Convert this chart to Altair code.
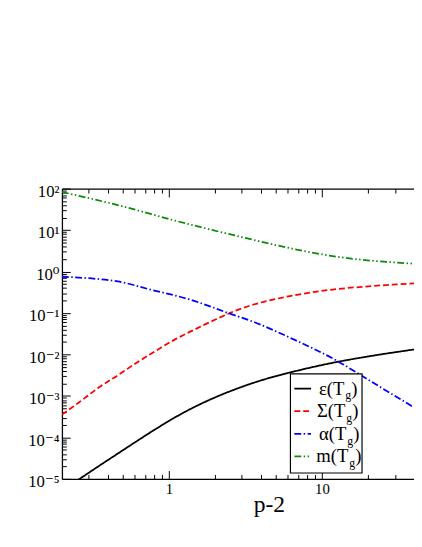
import altair as alt
import pandas as pd

# ---------------- data ----------------
NAMES = ["eps", "Sigma", "alpha", "m"]

X_EPS = [0.2, 0.2576, 0.3456, 0.4637, 0.6221, 0.8346, 1.12, 1.502, 2.016, 2.704,
         3.628, 4.868, 6.53, 12.28, 21.2, 40]
Y_EPS = [5.2e-6, 9.7e-6, 2.0e-5, 4.08e-5, 8.30e-5, 1.66e-4, 3.18e-4, 5.64e-4, 9.31e-4, 1.44e-3,
         2.11e-3, 2.93e-3, 3.87e-3, 6.50e-3, 9.27e-3, 1.32e-2]

X_SIG = [0.2, 0.2576, 0.3456, 0.4637, 0.6221, 0.8346, 1.12, 1.502, 2.016, 2.704,
         3.628, 4.868, 6.53, 11.75, 21.2, 40]
Y_SIG = [3.55e-4, 6.93e-4, 1.57e-3, 3.15e-3, 6.50e-3, 1.27e-2, 2.41e-2, 4.15e-2, 6.98e-2, 0.1127,
         0.1626, 0.2134, 0.2655, 0.368, 0.446, 0.52]

X_ALP = [0.2, 0.2984, 0.4637, 0.756, 1.361, 2.451, 3.628, 6.53, 12.28, 21.2, 40]
Y_ALP = [0.749, 0.690, 0.579, 0.368, 0.2134, 0.0995, 0.0598, 0.0232, 7.36e-3, 2.18e-3, 5.28e-4]

X_M = [0.2, 0.4637, 1.17, 2.704, 6.824, 11.75, 40]
Y_M = [83.0, 40.0, 15.9, 7.41, 3.40, 2.36, 1.55]

LEG_MAIN = ["ε(T", "Σ(T", "α(T", "m(T"]
LEG_SUB = ["g", "g", "g", "g"]
LEG_CLOSE = [")", ")", ")", ")"]

X_DOMAIN = [0.2, 40]
Y_DOMAIN = [1e-5, 1e2]
X_MAJOR = [1, 10]
X_MINOR = [0.3, 0.4, 0.5, 0.6, 0.7, 0.8, 0.9, 2, 3, 4, 5, 6, 7, 8, 9, 20, 30]
Y_MAJOR = [1e-5, 1e-4, 1e-3, 1e-2, 1e-1, 1e0, 1e1, 1e2]
Y_MINOR = [k * 10.0 ** e for e in range(-5, 2) for k in range(2, 10)]
Y_LABELS = ["10⁻⁵", "10⁻⁴", "10⁻³", "10⁻²", "10⁻¹", "10⁰", "10¹", "10²"]

# ---------------- styles / layout ----------------
COLORS = ["#000000", "#ff0000", "#0000ff", "#0a8c0a"]
DASHES = [[1, 0], [6, 3], [7, 2.5, 1.5, 2.5], [7, 2.5, 1.5, 2.5, 1.5, 2.5]]
FONT = "'Liberation Serif', 'Times New Roman', 'DejaVu Serif', serif"
W, H = 359, 296

LEG_BOX = (233, 306, 189, 290)
LEG_ROW_Y = [204, 227, 250, 273]
LEG_LINE_X = (237, 254)
LEG_SUB_X = [288, 289, 290, 292]

rows = []
for name, xs_, ys_ in zip(NAMES, [X_EPS, X_SIG, X_ALP, X_M], [Y_EPS, Y_SIG, Y_ALP, Y_M]):
    for a, b in zip(xs_, ys_):
        rows.append({"s": name, "x": a, "y": b})
df = pd.DataFrame(rows)

color_scale = alt.Scale(domain=NAMES, range=COLORS)
dash_scale = alt.Scale(domain=NAMES, range=DASHES)
xsc = alt.Scale(type="log", domain=X_DOMAIN, nice=False)
ysc = alt.Scale(type="log", domain=Y_DOMAIN, nice=False)

label_expr = "[" + ",".join("'%s'" % s for s in Y_LABELS) + "][round(log(datum.value)/LN10)+5]"

x_main_axis = alt.Axis(
    values=X_MAJOR, format="d", ticks=False, tickSize=0, grid=False,
    domain=True, domainColor="#000", domainWidth=1.3,
    labelFont=FONT, labelFontSize=15, labelColor="#000", labelPadding=3, labelFlush=False,
    title="p-2", titleFont=FONT, titleFontSize=24, titleFontWeight="normal", titleColor="#000",
    titleX=211, titleY=33, titleAlign="center", titleBaseline="alphabetic",
)
y_main_axis = alt.Axis(
    values=Y_MAJOR, labelExpr=label_expr, ticks=False, tickSize=0, grid=False,
    domain=True, domainColor="#000", domainWidth=1.3,
    labelFont=FONT, labelFontSize=17, labelColor="#000", labelPadding=3,
    labelOffset=3, labelFlush=False, labelOverlap=False, title=None,
)

lines = alt.Chart(df).mark_line(clip=True, strokeWidth=1.8, interpolate="monotone").encode(
    x=alt.X("x:Q", scale=xsc, axis=x_main_axis),
    y=alt.Y("y:Q", scale=ysc, axis=y_main_axis),
    color=alt.Color("s:N", scale=color_scale, legend=None),
    strokeDash=alt.StrokeDash("s:N", scale=dash_scale, legend=None),
)


def tick_axis(orient, offset, values, size, domain=False):
    return alt.Axis(orient=orient, offset=offset, values=values, labels=False,
                    domain=domain, domainColor="#000", domainWidth=1.3,
                    ticks=True, tickSize=size, tickColor="#000", tickWidth=1,
                    grid=False, title=None)


def tick_layer(xaxis, yaxis):
    return alt.Chart(df).mark_point(opacity=0, size=1, clip=True).encode(
        x=alt.X("x:Q", scale=xsc, axis=xaxis),
        y=alt.Y("y:Q", scale=ysc, axis=yaxis),
    )


t1 = tick_layer(tick_axis("top", -H, X_MAJOR, 8.5), tick_axis("right", -W, Y_MAJOR, 8.5))
t2 = tick_layer(tick_axis("top", -H, X_MINOR, 4.5), tick_axis("right", -W, Y_MINOR, 4.5))
t3 = tick_layer(tick_axis("bottom", -H, X_MAJOR, 8.5, domain=True), None)
t4 = tick_layer(tick_axis("bottom", -H, X_MINOR, 4.5), None)

# ---------------- legend ----------------
box = alt.Chart(pd.DataFrame({"a": [0]})).mark_rect(fill="white", stroke="#000", strokeWidth=1.2).encode(
    x=alt.value(LEG_BOX[0]), x2=alt.value(LEG_BOX[1]), y=alt.value(LEG_BOX[2]), y2=alt.value(LEG_BOX[3])
)
leg_df = pd.DataFrame({"s": NAMES, "py": LEG_ROW_Y, "px": LEG_SUB_X,
                       "main": LEG_MAIN, "sub": LEG_SUB, "close": LEG_CLOSE})
samples = alt.Chart(leg_df).mark_rule(strokeWidth=1.8).encode(
    x=alt.value(LEG_LINE_X[0]), x2=alt.value(LEG_LINE_X[1]),
    y=alt.Y("py:Q", scale=None, axis=None),
    color=alt.Color("s:N", scale=color_scale, legend=None),
    strokeDash=alt.StrokeDash("s:N", scale=dash_scale, legend=None),
)
txt_main = alt.Chart(leg_df).mark_text(align="right", baseline="middle", font=FONT, fontSize=19, color="#000").encode(
    x=alt.X("px:Q", scale=None, axis=None), y=alt.Y("py:Q", scale=None, axis=None), text="main:N")
txt_sub = alt.Chart(leg_df).mark_text(align="left", baseline="middle", font=FONT, fontSize=12, dx=1, dy=7, color="#000").encode(
    x=alt.X("px:Q", scale=None, axis=None), y=alt.Y("py:Q", scale=None, axis=None), text="sub:N")
txt_close = alt.Chart(leg_df).mark_text(align="left", baseline="middle", font=FONT, fontSize=19, dx=7, color="#000").encode(
    x=alt.X("px:Q", scale=None, axis=None), y=alt.Y("py:Q", scale=None, axis=None), text="close:N")

chart = alt.layer(
    lines, t1, t2, t3, t4, box, samples, txt_main, txt_sub, txt_close
).resolve_scale(
    x="independent", y="independent"
).properties(
    width=W, height=H,
    autosize=alt.AutoSizeParams(type="none"),
    padding={"left": 55, "top": 179, "right": 0, "bottom": 50},
).configure_view(stroke=None)

chart.save("out.html", embed_options={"renderer": "svg", "actions": False})
